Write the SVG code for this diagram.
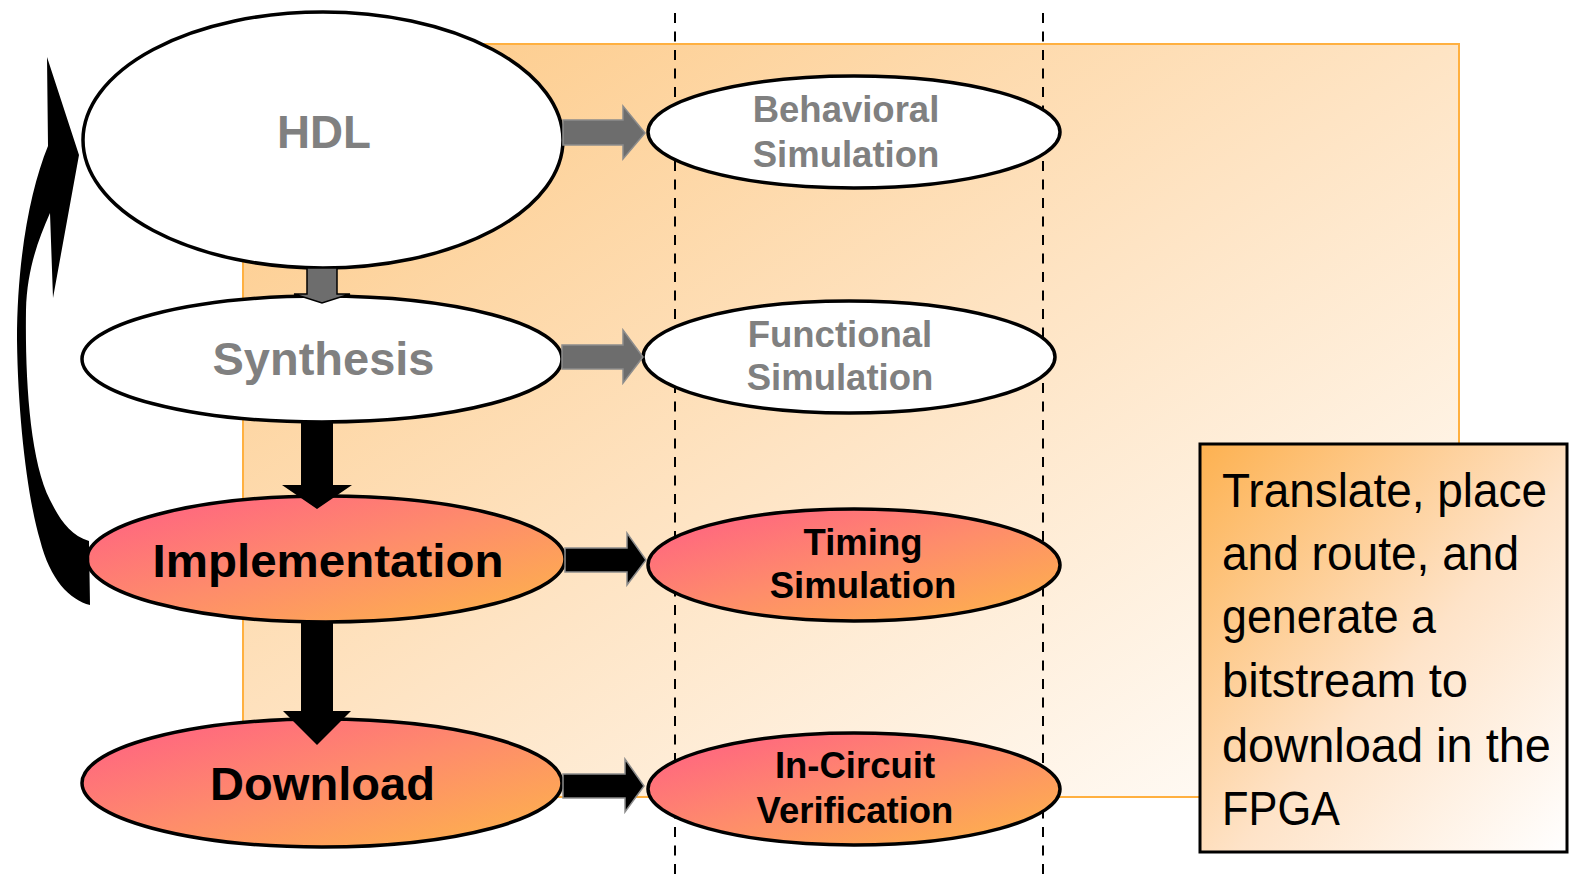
<svg xmlns="http://www.w3.org/2000/svg" width="1570" height="875" viewBox="0 0 1570 875">
<defs>
<linearGradient id="bgGrad" x1="0" y1="0" x2="1" y2="1">
<stop offset="0" stop-color="#FDC985"/>
<stop offset="0.5" stop-color="#FEE4C4"/>
<stop offset="1" stop-color="#FFFFFF"/>
</linearGradient>
<linearGradient id="boxGrad" x1="0" y1="0" x2="1" y2="1">
<stop offset="0" stop-color="#FDB150"/>
<stop offset="0.55" stop-color="#FEE3C8"/>
<stop offset="1" stop-color="#FFFFFF"/>
</linearGradient>
<linearGradient id="redGrad" x1="0" y1="0" x2="1" y2="1">
<stop offset="0.1" stop-color="#FF6680"/>
<stop offset="0.5" stop-color="#FE8C6B"/>
<stop offset="0.95" stop-color="#FDB24C"/>
</linearGradient>
<style>
.white{fill:#FFFFFF;stroke:#000;stroke-width:3.5}
.red{fill:url(#redGrad);stroke:#000;stroke-width:3.5}
.big{font-family:"Liberation Sans Narrow","Liberation Sans",Arial,sans-serif;font-weight:bold;font-size:46px;text-anchor:middle}
.small{font-family:"Liberation Sans",Arial,sans-serif;font-weight:bold;font-size:36.5px;text-anchor:middle}
.gray{fill:#808080}
.black{fill:#000}
.note{font-family:"Liberation Sans Narrow","Liberation Sans",Arial,sans-serif;font-size:48px;fill:#000}
.dash{stroke:#000;stroke-width:2;stroke-dasharray:10 8.5;fill:none}
.garrow{fill:#6D6D6D;stroke:#8C8C8C;stroke-width:1.5}
.barrow{fill:#000;stroke:#8C8C8C;stroke-width:1.5}
</style>
</defs>
<rect x="0" y="0" width="1570" height="875" fill="#FFFFFF"/>
<g id="background">
<rect x="243" y="44" width="1216" height="753" fill="url(#bgGrad)" stroke="#FFB040" stroke-width="2"/>
<line class="dash" x1="675" y1="13" x2="675" y2="875"/>
<line class="dash" x1="1043" y1="13" x2="1043" y2="875"/>
</g>
<g id="node-hdl">
<ellipse class="white" cx="323" cy="140" rx="240" ry="128"/>
<text class="big gray" x="324" y="148" textLength="94" lengthAdjust="spacingAndGlyphs">HDL</text>
</g>
<g id="node-synthesis">
<ellipse class="white" cx="322" cy="359" rx="240" ry="63"/>
<text class="big gray" x="323.5" y="375" textLength="222" lengthAdjust="spacingAndGlyphs">Synthesis</text>
</g>
<g id="node-implementation">
<ellipse class="red" cx="326" cy="559" rx="239" ry="63"/>
<text class="big black" x="328" y="577" textLength="351" lengthAdjust="spacingAndGlyphs">Implementation</text>
</g>
<g id="node-download">
<ellipse class="red" cx="322" cy="783" rx="240" ry="64"/>
<text class="big black" x="322.5" y="800" textLength="225" lengthAdjust="spacingAndGlyphs">Download</text>
</g>
<g id="node-behavioral">
<ellipse class="white" cx="854" cy="132" rx="206" ry="56"/>
<text class="small gray" x="846" y="122">Behavioral</text>
<text class="small gray" x="846" y="167">Simulation</text>
</g>
<g id="node-functional">
<ellipse class="white" cx="849" cy="357" rx="206" ry="56"/>
<text class="small gray" x="840" y="347">Functional</text>
<text class="small gray" x="840" y="390">Simulation</text>
</g>
<g id="node-timing">
<ellipse class="red" cx="854" cy="565" rx="206" ry="56"/>
<text class="small black" x="863" y="555">Timing</text>
<text class="small black" x="863" y="598">Simulation</text>
</g>
<g id="node-incircuit">
<ellipse class="red" cx="854" cy="789" rx="206" ry="56"/>
<text class="small black" x="855" y="778">In-Circuit</text>
<text class="small black" x="855" y="823">Verification</text>
</g>
<g id="connectors">
<polygon class="garrow" points="563,120 623,120 623,106 645,133 623,159 623,145 563,145"/>
<polygon class="garrow" points="562,345 623,345 623,330 643,357 623,383 623,369 562,369"/>
<polygon fill="#6D6D6D" stroke="#000" stroke-width="1.5" points="307,268 337,268 337,294 350,294 322,303 294,294 307,294"/>
<polygon class="barrow" points="565,548 627,548 627,533 646,560 627,585 627,572 565,572"/>
<polygon class="barrow" points="563,774 625,774 625,759 644,786 625,812 625,798 563,798"/>
<polygon fill="#000" points="301,422 333,422 333,485 352,485 317,509 282,485 301,485"/>
<polygon fill="#000" points="301,621 333,621 333,711 351,711 317,745 283,711 301,711"/>
<path fill="#000" d="M47,57 L79,155 L53,298 L50,213 C38,240 27,270 26,310 C25,380 30,460 50,500 C60,520 70,535 89,541 L90,605 C70,600 50,580 40,540 C28,500 18,420 17,340 C17,260 30,190 48,146 Z"/>
</g>
<g id="note">
<rect x="1200" y="444" width="367" height="408" fill="url(#boxGrad)" stroke="#000" stroke-width="3"/>
<text class="note" x="1222" y="507" textLength="325" lengthAdjust="spacingAndGlyphs">Translate, place</text>
<text class="note" x="1222" y="570" textLength="297" lengthAdjust="spacingAndGlyphs">and route, and</text>
<text class="note" x="1222" y="633" textLength="214" lengthAdjust="spacingAndGlyphs">generate a</text>
<text class="note" x="1222" y="697" textLength="246" lengthAdjust="spacingAndGlyphs">bitstream to</text>
<text class="note" x="1222" y="762" textLength="329" lengthAdjust="spacingAndGlyphs">download in the</text>
<text class="note" x="1222" y="825" textLength="118" lengthAdjust="spacingAndGlyphs">FPGA</text>
</g>
</svg>
